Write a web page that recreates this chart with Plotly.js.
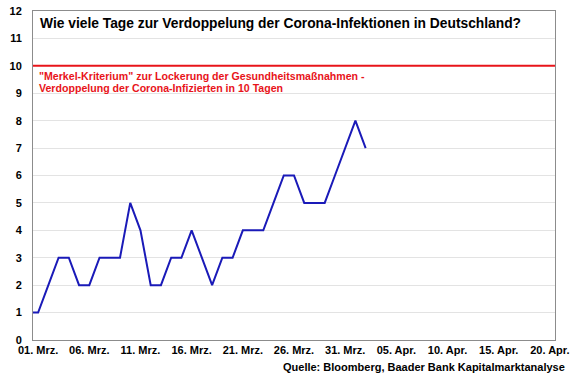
<!DOCTYPE html>
<html>
<head>
<meta charset="utf-8">
<script src="https://cdn.plot.ly/plotly-3.0.1.min.js"></script>
<style>html,body{margin:0;padding:0;background:#fff;}#chart{width:580px;height:375px;}</style>
</head>
<body>
<div id="chart"></div>
<script>
const dates = ['2020-02-29','2020-03-01','2020-03-02','2020-03-03','2020-03-04','2020-03-05','2020-03-06','2020-03-07','2020-03-08','2020-03-09','2020-03-10','2020-03-11','2020-03-12','2020-03-13','2020-03-14','2020-03-15','2020-03-16','2020-03-17','2020-03-18','2020-03-19','2020-03-20','2020-03-21','2020-03-22','2020-03-23','2020-03-24','2020-03-25','2020-03-26','2020-03-27','2020-03-28','2020-03-29','2020-03-30','2020-03-31','2020-04-01','2020-04-02'];
const doublingDays = [1,1,2,3,3,2,2,3,3,3,5,4,2,2,3,3,4,3,2,3,3,4,4,4,5,6,6,5,5,5,6,7,8,7];
const merkelThreshold = 10;
const tickDates = ['2020-03-01','2020-03-06','2020-03-11','2020-03-16','2020-03-21','2020-03-26','2020-03-31','2020-04-05','2020-04-10','2020-04-15','2020-04-20'];
const tickLabels = ['01. Mrz.','06. Mrz.','11. Mrz.','16. Mrz.','21. Mrz.','26. Mrz.','31. Mrz.','05. Apr.','10. Apr.','15. Apr.','20. Apr.'];
const yTicks = [0,1,2,3,4,5,6,7,8,9,10,11,12];
const titleText = 'Wie viele Tage zur Verdoppelung der Corona-Infektionen in Deutschland?';
const merkelLine1 = '"Merkel-Kriterium" zur Lockerung der Gesundheitsmaßnahmen -';
const merkelLine2 = 'Verdoppelung der Corona-Infizierten in 10 Tagen';
const sourceText = 'Quelle: Bloomberg, Baader Bank Kapitalmarktanalyse';

const font = 'Liberation Sans, Arial, sans-serif';
const red = '#e8141a';

const traces = [{
  x: dates, y: doublingDays, type: 'scatter', mode: 'lines',
  line: {color: '#1a1ab8', width: 2}, hoverinfo: 'skip', cliponaxis: true
}];

const layout = {
  width: 580, height: 375,
  margin: {l: 33, r: 25, t: 11, b: 35},
  paper_bgcolor: '#fff', plot_bgcolor: '#fff',
  showlegend: false,
  font: {family: font, color: '#000'},
  xaxis: {
    type: 'date', range: ['2020-02-29 12:00', '2020-04-20 12:00'],
    tickvals: tickDates, ticktext: tickLabels,
    tickfont: {family: font, size: 11, color: '#000', weight: 'bold'},
    showgrid: false, zeroline: false,
    showline: true, linecolor: '#8c8c8c', linewidth: 1, mirror: true,
    ticks: '', ticklen: 0
  },
  yaxis: {
    range: [0, 12], tickvals: yTicks,
    tickfont: {family: font, size: 11, color: '#000', weight: 'bold'},
    showgrid: true, gridcolor: '#e3e3e3', gridwidth: 1,
    zeroline: false,
    showline: true, linecolor: '#8c8c8c', linewidth: 1, mirror: true,
    ticks: '', ticklabelstandoff: 8
  },
  shapes: [{
    type: 'line', xref: 'paper', x0: 0, x1: 1, yref: 'y', y0: merkelThreshold, y1: merkelThreshold,
    line: {color: red, width: 2}
  }],
  annotations: [
    {xref: 'paper', yref: 'paper', x: 0.01, y: 0.963, xanchor: 'left', yanchor: 'middle',
     text: '<b>' + titleText + '</b>', showarrow: false,
     font: {family: font, size: 13.8, color: '#000'}},
    {xref: 'paper', yref: 'y', x: 0.007, y: merkelThreshold - 0.37, xanchor: 'left', yanchor: 'middle',
     text: '<b>' + merkelLine1 + '</b>', showarrow: false, align: 'left',
     font: {family: font, size: 10.6, color: red}},
    {xref: 'paper', yref: 'y', x: 0.007, y: merkelThreshold - 0.8, xanchor: 'left', yanchor: 'middle',
     text: '<b>' + merkelLine2 + '</b>', showarrow: false, align: 'left',
     font: {family: font, size: 10.6, color: red}},
    {xref: 'paper', yref: 'paper', x: 1.0, y: -0.082, xanchor: 'right', yanchor: 'middle',
     xshift: 12,
     text: '<b>' + sourceText + '</b>', showarrow: false,
     font: {family: font, size: 11, color: '#000'}}
  ]
};

Plotly.newPlot('chart', traces, layout, {displayModeBar: false, staticPlot: true});
</script>
</body>
</html>
